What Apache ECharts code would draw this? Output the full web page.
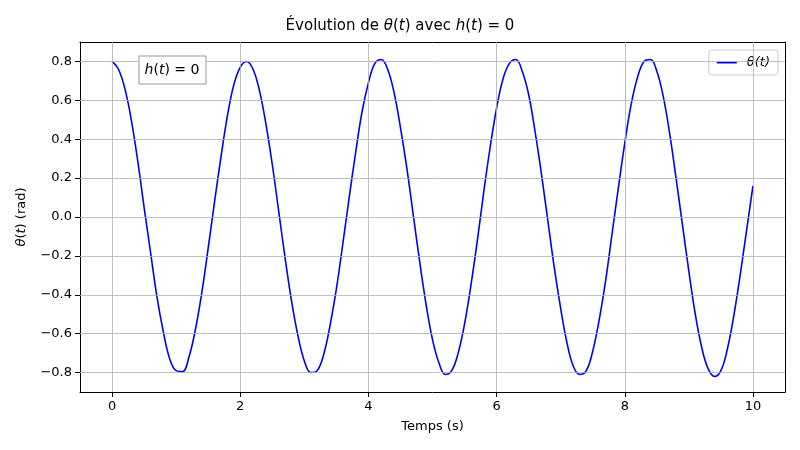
<!DOCTYPE html>
<html>
<head>
<meta charset="utf-8">
<script src="https://cdn.jsdelivr.net/npm/echarts@6/dist/echarts.min.js"></script>
<style>html,body{margin:0;background:#fff}#chart{width:800px;height:450px}</style>
</head>
<body>
<div id="chart"></div>
<script>
// temps (s), pas de 0.1
var temps = [];
for (var i = 0; i <= 100; i++) temps.push(+(i / 10).toFixed(1));

// theta(t)
var theta = [
  0.80, 0.76, 0.66, 0.50, 0.29, 0.05, -0.18, -0.41, -0.59, -0.73,
  -0.79, -0.795, -0.72, -0.58, -0.39, -0.16, 0.08, 0.31, 0.52, 0.68,
  0.77, 0.80, 0.76, 0.65, 0.48, 0.27, 0.03, -0.21, -0.43, -0.61,
  -0.74, -0.80, -0.79, -0.71, -0.56, -0.37, -0.14, 0.10, 0.33, 0.54,
  0.69, 0.79, 0.81, 0.76, 0.64, 0.46, 0.25, 0.01, -0.23, -0.45,
  -0.63, -0.75, -0.81, -0.79, -0.70, -0.55, -0.35, -0.12, 0.13, 0.36,
  0.56, 0.71, 0.79, 0.81, 0.75, 0.63, 0.44, 0.22, -0.02, -0.26,
  -0.47, -0.65, -0.77, -0.81, -0.79, -0.69, -0.53, -0.33, -0.09, 0.15,
  0.38, 0.58, 0.72, 0.80, 0.81, 0.75, 0.62, 0.43, 0.20, -0.04,
  -0.28, -0.50, -0.67, -0.78, -0.82, -0.79, -0.68, -0.51, -0.30, -0.07,
  0.16
];

var xTicks = [0, 2, 4, 6, 8, 10];
var yTicks = [-0.8, -0.6, -0.4, -0.2, 0, 0.2, 0.4, 0.6, 0.8];

var points = temps.map(function (t, i) { return [t, theta[i]]; });

var chart = echarts.init(document.getElementById('chart'));
var font = 'DejaVu Sans';
var frameAxis = {
  type: 'value', axisLine: { show: true, onZero: false, lineStyle: { color: '#000' } },
  axisTick: { show: false }, axisLabel: { show: false }, splitLine: { show: false }
};
chart.setOption({
  animation: false,
  textStyle: { fontFamily: font },
  title: {
    text: 'Évolution de {i|θ}({i|t}) avec {i|h}({i|t}) = 0',
    left: 'center', top: 14,
    textStyle: {
      fontFamily: font, fontSize: 15, fontWeight: 'normal', color: '#000',
      rich: { i: { fontFamily: font, fontSize: 15, fontStyle: 'italic', color: '#000' } }
    }
  },
  legend: {
    right: 22, top: 50,
    data: [{ name: 'θ(t)', icon: 'path://M0,0H40V4H0Z' }],
    itemWidth: 30, itemHeight: 2,
    backgroundColor: '#fff', borderColor: '#ccc', borderWidth: 1, borderRadius: 3,
    padding: [6, 8],
    textStyle: { fontFamily: font, fontSize: 13, fontStyle: 'italic', color: '#000' }
  },
  grid: { left: 80, right: 15, top: 42, bottom: 58 },
  xAxis: [{
    type: 'value', min: -0.5, max: 10.5,
    name: 'Temps (s)', nameLocation: 'middle', nameGap: 28,
    nameTextStyle: { fontFamily: font, fontSize: 13, color: '#000' },
    axisLine: { onZero: false, lineStyle: { color: '#000' } },
    axisTick: { customValues: xTicks, lineStyle: { color: '#000' } },
    axisLabel: { color: '#000', fontSize: 13, customValues: xTicks },
    splitLine: { show: false }
  }, Object.assign({ position: 'top', min: -0.5, max: 10.5 }, frameAxis)],
  yAxis: [{
    type: 'value', min: -0.9, max: 0.9,
    name: '{i|θ}({i|t}) (rad)', nameLocation: 'middle', nameGap: 52,
    nameTextStyle: { fontFamily: font, fontSize: 13, color: '#000',
      rich: { i: { fontFamily: font, fontSize: 13, fontStyle: 'italic', color: '#000' } } },
    axisLine: { show: true, onZero: false, lineStyle: { color: '#000' } },
    axisTick: { show: true, customValues: yTicks, lineStyle: { color: '#000' } },
    axisLabel: {
      color: '#000', fontSize: 13, customValues: yTicks,
      formatter: function (v) { return (v < 0 ? '−' : '') + Math.abs(v).toFixed(1); }
    },
    splitLine: { show: false }
  }, Object.assign({ position: 'right', min: -0.9, max: 0.9 }, frameAxis)],
  series: [
    {
      name: 'θ(t)', type: 'line', data: points, smooth: 0.4,
      showSymbol: false, lineStyle: { color: '#0000ff', width: 1.6 },
      itemStyle: { color: '#0000ff' },
      markLine: {
        silent: true, symbol: 'none', label: { show: false },
        lineStyle: { color: '#b0b0b0', width: 0.8, type: 'solid' },
        data: xTicks.map(function (v) { return { xAxis: v }; })
          .concat(yTicks.map(function (v) { return { yAxis: v }; }))
      },
      z: 3
    }
  ],
  graphic: [
    {
      type: 'rect', shape: { x: 139, y: 56, width: 67, height: 28 },
      style: { fill: '#fff', stroke: '#999', lineWidth: 1 }, z: 10
    },
    {
      type: 'text', x: 172, y: 70, z: 11,
      style: {
        text: '{i|h}({i|t}) = 0', align: 'center', verticalAlign: 'middle',
        font: '14px DejaVu Sans', fill: '#000',
        rich: { i: { fontStyle: 'italic', fontSize: 14, fontFamily: font } }
      }
    }
  ]
});
</script>
</body>
</html>
